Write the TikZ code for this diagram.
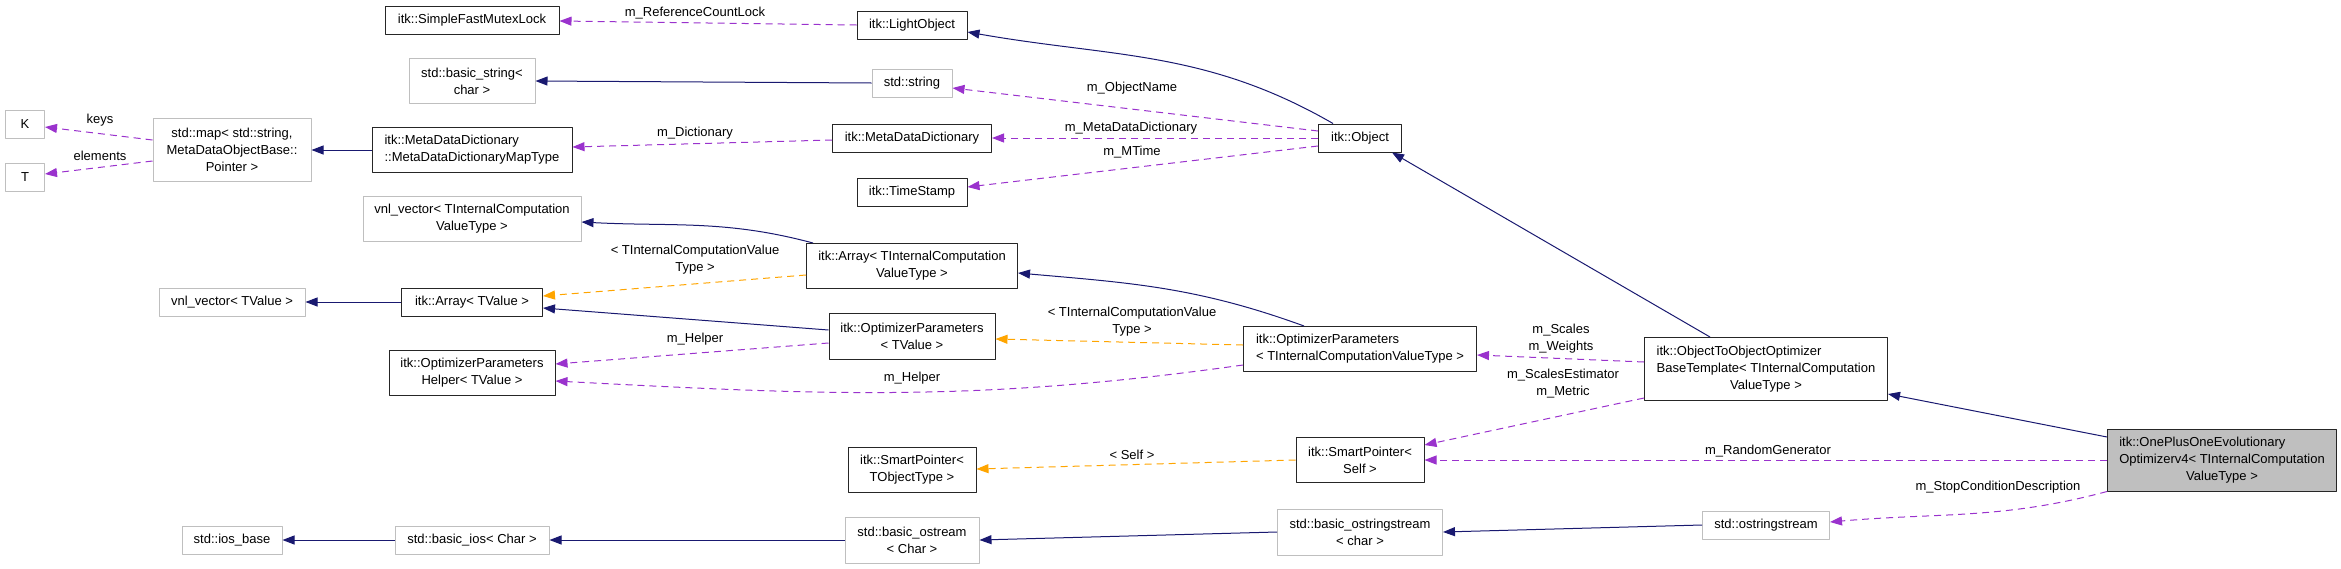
\documentclass[tikz,border=0pt]{standalone}
\usepackage{fontspec}
\setmainfont{Liberation Sans}
\usetikzlibrary{arrows.meta}
\definecolor{navy}{HTML}{191970}
\definecolor{orchid}{HTML}{9A32CD}
\definecolor{tplorange}{HTML}{FFA500}
\definecolor{grey75}{HTML}{BFBFBF}
\newcommand{\lrows}[3]{\begin{tabular}{@{}l@{}}#1\\#2\\\multicolumn{1}{@{}c@{}}{#3}\end{tabular}}

\begin{document}
\begin{tikzpicture}[x=1pt, y=-1pt, font=\fontsize{13}{17}\selectfont, line join=round, >={Triangle[length=12pt,width=9pt]},
		cls/.style={draw=black!85, line width=1pt, fill=white, inner sep=0pt, minimum height=28pt, align=center},
		ext/.style={cls, draw=grey75},
		lbl/.style={inner sep=0pt, align=center},
		inh/.style={->, navy, line width=1pt},
		mem/.style={->, orchid, line width=1pt, dash pattern=on 7pt off 5pt},
		tpl/.style={->, tplorange, line width=1pt, dash pattern=on 7pt off 5pt}]
			\useasboundingbox (0,0) rectangle (2341,568);
			\node[cls, minimum width=174pt] (mutex) at (472,20) {itk::SimpleFastMutexLock};
			\node[cls, minimum width=110pt] (lightobj) at (912,25) {itk::LightObject};
			\node[ext, minimum width=126pt, minimum height=45pt] (bstring) at (472,81) {std::basic\_string<\\char >};
			\node[ext, minimum width=80pt] (stdstring) at (912,83) {std::string};
			\node[ext, minimum width=39pt] (K) at (25,124) {K};
			\node[ext, minimum width=39pt] (T) at (25,177) {T};
			\node[ext, minimum width=158pt, minimum height=63pt] (stdmap) at (232,150) {std::map< std::string,\\MetaDataObjectBase::\\Pointer >};
			\node[cls, minimum width=200pt, minimum height=45pt, align=left] (mapdict) at (472,150) {itk::MetaDataDictionary\\::MetaDataDictionaryMapType};
			\node[cls, minimum width=159pt] (mdd) at (912,138) {itk::MetaDataDictionary};
			\node[cls, minimum width=83pt] (object) at (1360,138) {itk::Object};
			\node[cls, minimum width=110pt] (timestamp) at (912,192) {itk::TimeStamp};
			\node[ext, minimum width=218pt, minimum height=45pt] (vnltic) at (472,219) {vnl\_vector< TInternalComputation\\ValueType >};
			\node[cls, minimum width=211pt, minimum height=45pt] (arraytic) at (912,266) {itk::Array< TInternalComputation\\ValueType >};
			\node[ext, minimum width=146pt] (vnltv) at (232,302) {vnl\_vector< TValue >};
			\node[cls, minimum width=141pt] (arraytv) at (472,302) {itk::Array< TValue >};
			\node[cls, minimum width=166pt, minimum height=46pt] (optv) at (912,336) {itk::OptimizerParameters\\< TValue >};
			\node[cls, minimum width=233pt, minimum height=45pt, align=left] (optic) at (1360,349) {itk::OptimizerParameters\\< TInternalComputationValueType >};
			\node[cls, minimum width=166pt, minimum height=45pt] (ophelper) at (472,373) {itk::OptimizerParameters\\Helper< TValue >};
			\node[cls, minimum width=243pt, minimum height=63pt] (oto) at (1766,369) {\lrows{itk::ObjectToObjectOptimizer}{BaseTemplate< TInternalComputation}{ValueType >}};
			\node[cls, minimum width=128pt, minimum height=45pt] (spto) at (912,470) {itk::SmartPointer<\\TObjectType >};
			\node[cls, minimum width=128pt, minimum height=45pt] (spself) at (1360,460) {itk::SmartPointer<\\Self >};
			\node[cls, fill=grey75, minimum width=229pt, minimum height=62pt] (oneplus) at (2222,460) {\lrows{itk::OnePlusOneEvolutionary}{Optimizerv4< TInternalComputation}{ValueType >}};
			\node[ext, minimum width=127pt] (ostrs) at (1766,525) {std::ostringstream};
			\node[ext, minimum width=165pt, minimum height=46pt] (bostrs) at (1360,532) {std::basic\_ostringstream\\< char >};
			\node[ext, minimum width=134pt, minimum height=46pt] (bostream) at (912,540) {std::basic\_ostream\\< Char >};
			\node[ext, minimum width=154pt] (bios) at (472,540) {std::basic\_ios< Char >};
			\node[ext, minimum width=100pt] (iosbase) at (232,540) {std::ios\_base};
			\foreach \a/\b in {stdstring/bstring, mapdict/stdmap, arraytv/vnltv, ostrs/bostrs, bostrs/bostream, bostream/bios, bios/iosbase} \draw[inh] (\a.west) -- (\b.east);
			\draw[inh] ([xshift=-27pt]object.north) to[out=150,in=-10] ([yshift=-7pt]lightobj.east);
			\draw[inh] ([xshift=-56pt]oto.north) -- ([xshift=32pt]object.south);
			\draw[inh] ([yshift=23pt]oneplus.west) -- ([yshift=-25pt]oto.east);
			\draw[inh] ([xshift=-99pt]arraytic.north) to[out=165,in=-3] ([yshift=-3pt]vnltic.east);
			\draw[inh] ([yshift=6pt]optv.west) -- ([yshift=-6pt]arraytv.east);
			\draw[inh] ([xshift=-56pt]optic.north) to[out=160,in=-5] ([yshift=-7pt]arraytic.east);
			\foreach \a/\b in {object/mdd, oneplus/spself} \draw[mem] (\a.west) -- (\b.east);
			\draw[mem] (lightobj.west) -- ([yshift=-1pt]mutex.east);
			\draw[mem] ([yshift=7pt]object.west) -- ([yshift=-5pt]stdstring.east);
			\draw[mem] ([yshift=-8pt]object.west) -- ([yshift=5pt]timestamp.east);
			\draw[mem] ([yshift=-2pt]mdd.west) -- ([yshift=3pt]mapdict.east);
			\draw[mem] ([yshift=10pt]stdmap.west) -- ([yshift=-3pt]K.east);
			\draw[mem] ([yshift=-11pt]stdmap.west) -- ([yshift=3pt]T.east);
			\draw[mem] ([yshift=-7pt]optv.west) -- ([yshift=9pt]ophelper.east);
			\draw[mem] ([yshift=-16pt]optic.west) to[out=188,in=-3] ([yshift=-8pt]ophelper.east);
			\draw[mem] ([yshift=7pt]oto.west) -- ([yshift=-6pt]optic.east);
			\draw[mem] ([yshift=-29pt]oto.west) -- ([yshift=15pt]spself.east);
			\draw[mem] (oneplus.south west) to[out=195,in=5] ([yshift=3pt]ostrs.east);
			\draw[tpl] ([yshift=-9pt]arraytic.west) -- ([yshift=6pt]arraytv.east);
			\draw[tpl] ([yshift=4pt]optic.west) -- ([yshift=-3pt]optv.east);
			\draw[tpl] (spself.west) -- ([yshift=1pt]spto.east);
			\node[lbl] (lref) at (695,13) {m\_ReferenceCountLock};
			\node[lbl] (lname) at (1132,88) {m\_ObjectName};
			\node[lbl] (lmdd) at (1131,128) {m\_MetaDataDictionary};
			\node[lbl] (lmtime) at (1132,152) {m\_MTime};
			\node[lbl] (ldict) at (695,133) {m\_Dictionary};
			\node[lbl] (lkeys) at (100,120) {keys};
			\node[lbl] (lelem) at (100,156) {elements};
			\node[lbl] (ltpla) at (695,260) {< TInternalComputationValue\\Type >};
			\node[lbl] (ltplb) at (1132,322) {< TInternalComputationValue\\Type >};
			\node[lbl] (lhelpa) at (695,339) {m\_Helper};
			\node[lbl] (lhelpb) at (912,378) {m\_Helper};
			\node[lbl] (lscales) at (1561,339) {m\_Scales\\m\_Weights};
			\node[lbl] (lestim) at (1563,384) {m\_ScalesEstimator\\m\_Metric};
			\node[lbl] (lrand) at (1768,451) {m\_RandomGenerator};
			\node[lbl] (lstop) at (1998,487) {m\_StopConditionDescription};
			\node[lbl] (lself) at (1132,455) {< Self >};
		\end{tikzpicture}
\end{document}
